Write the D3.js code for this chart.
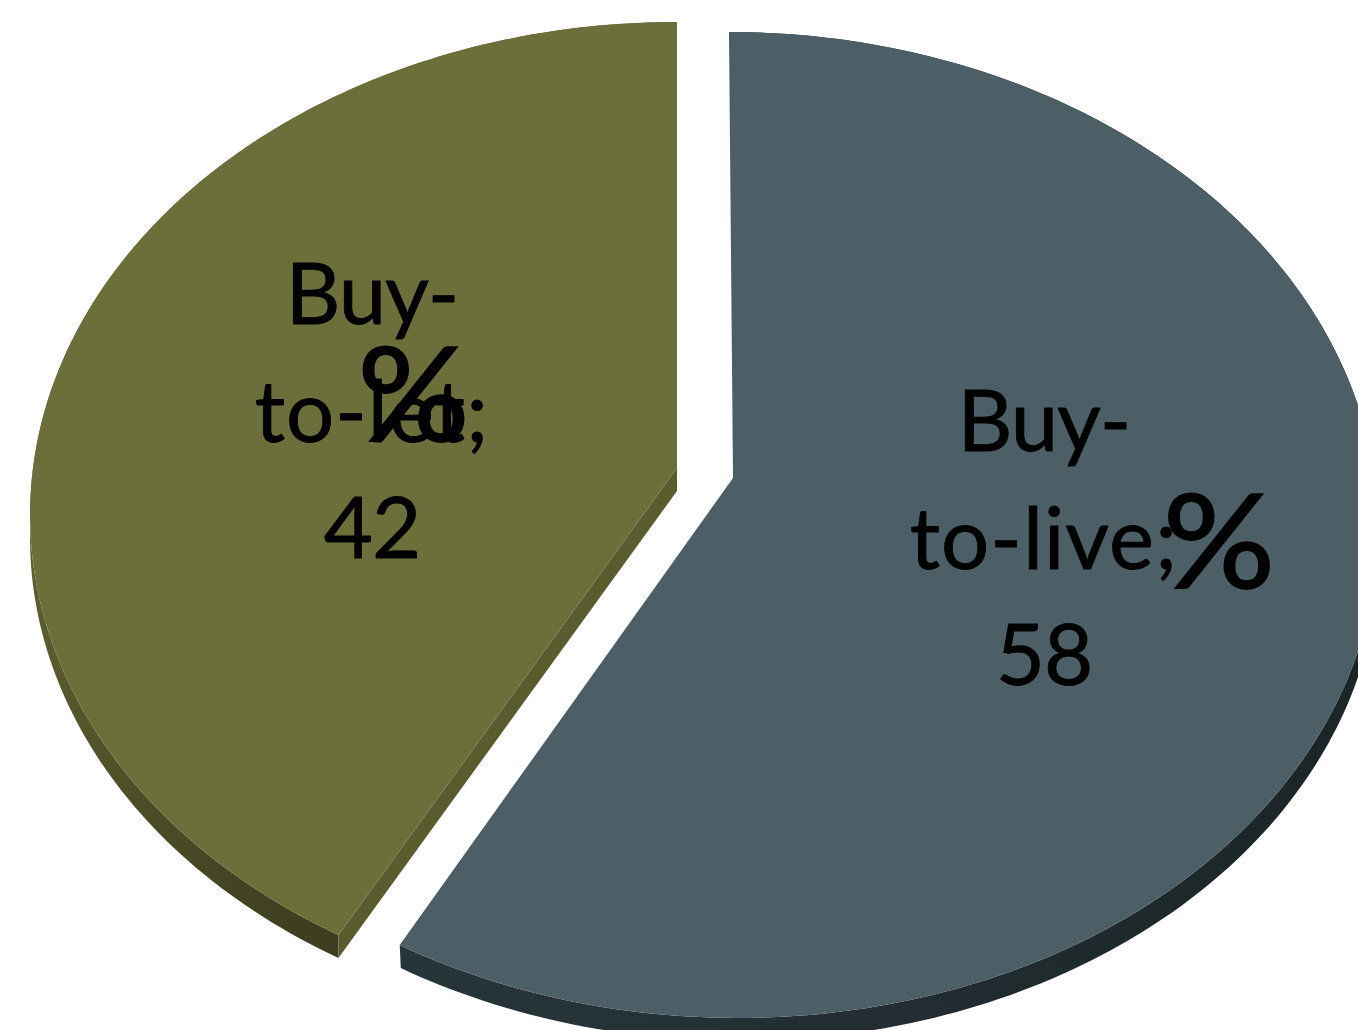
<!DOCTYPE html>
<html><head><meta charset="utf-8">
<script src="https://cdnjs.cloudflare.com/ajax/libs/d3/7.8.5/d3.min.js"></script>
<style>html,body{margin:0;padding:0;background:#fff;overflow:hidden}svg{display:block}</style></head>
<body><svg id="c" width="1358" height="1030"></svg>
<script>
const categories = ["Buy-to-live", "Buy-to-let"];
const values = [58, 42];
const labelLines = [["Buy-", "to-live;", "58"], ["Buy-", "to-let;", "42"]];
const unit = "%";
const topColors = ["#4c5f66", "#6d6f3a"];
const cutWallColor = "#5a5c2f";

const W = 1358, H = 1030;
const svg = d3.select("#c").attr("viewBox", [0, 0, W, H]);
const pie = d3.pie().sort(null).value(d => d)(values);

// perspective projection of the unit disc onto the tilted pie plane
const c = 0.0953;
const spreadX = [642, 644];
const skewX = [-4.4, 0];
const project = (u, v, i) => {
  const w = 1 + c * v;
  return [733 + (spreadX[i] * u + skewX[i] * v) / w, (478 - 442.95 * v) / w];
};
const offsets = [[0, 0], [-56, -10]];
const depths = [23, 23];
const wallDx = [1, 0];
const line = d3.line();

function rim(a0, a1, i) {
  const n = Math.max(2, Math.ceil((a1 - a0) * 60));
  return d3.range(n + 1).map(k => {
    const a = a0 + (a1 - a0) * k / n;
    return project(Math.sin(a), Math.cos(a), i);
  });
}
const shift = (pts, dx, dy) => pts.map(p => [p[0] + dx, p[1] + dy]);

const defs = svg.append("defs");
const wallStops = [
  { id: "wall0", stops: ["#1c2628", "#27353a"], x1: 1300, x2: 420, y1: 800, y2: 950 },
  { id: "wall1", stops: ["#5d5f30", "#3e3f20"], x1: 60, x2: 340, y1: 620, y2: 950 }
];
wallStops.forEach(w => {
  const g = defs.append("linearGradient").attr("id", w.id)
    .attr("gradientUnits", "userSpaceOnUse")
    .attr("x1", w.x1).attr("y1", w.y1).attr("x2", w.x2).attr("y2", w.y2);
  g.append("stop").attr("offset", 0).attr("stop-color", w.stops[0]);
  g.append("stop").attr("offset", 1).attr("stop-color", w.stops[1]);
});

const slices = svg.selectAll("g.slice").data(pie).join("g").attr("class", "slice")
  .attr("transform", (d, i) => `translate(${offsets[i]})`);

slices.each(function (d, i) {
  const g = d3.select(this);
  const r = rim(d.startAngle, d.endAngle, i);
  const apex = project(0, 0, i);
  const dz = depths[i];
  g.append("path").attr("fill", `url(#wall${i})`)
    .attr("d", line(r.concat(shift(r, wallDx[i], dz).reverse())) + "Z");
  if (i === 1) {
    const e = [apex, r[0]];
    g.append("path").attr("fill", cutWallColor)
      .attr("d", line(e.concat(shift(e, wallDx[i], dz).reverse())) + "Z");
  }
  g.append("path").attr("fill", topColors[i])
    .attr("d", line([apex, ...r]) + "Z");
});

const labelPos = [[1044, 451], [372, 324]];
const lineY = [0, 118, 234];
const lineSpacing = [-1, 1, -1];
const pctPos = [[1219, 588], [413.5, 441]];
pie.forEach((d, i) => {
  labelLines[i].forEach((t, j) => {
    svg.append("text").text(t)
      .attr("x", labelPos[i][0]).attr("y", labelPos[i][1] + lineY[j])
      .attr("text-anchor", "middle")
      .attr("letter-spacing", lineSpacing[j])
      .attr("font-family", "Lato, 'Open Sans', sans-serif")
      .attr("font-size", 85).attr("fill", "#000")
      .attr("stroke", "#000").attr("stroke-width", 0.8);
  });
  svg.append("text").text(unit)
    .attr("x", pctPos[i][0]).attr("y", pctPos[i][1])
    .attr("text-anchor", "middle")
    .attr("textLength", 112).attr("lengthAdjust", "spacingAndGlyphs")
    .attr("font-family", "Lato, 'Open Sans', sans-serif")
    .attr("font-size", 130).attr("fill", "#000")
    .attr("stroke", "#000").attr("stroke-width", 2);
});
</script></body></html>
